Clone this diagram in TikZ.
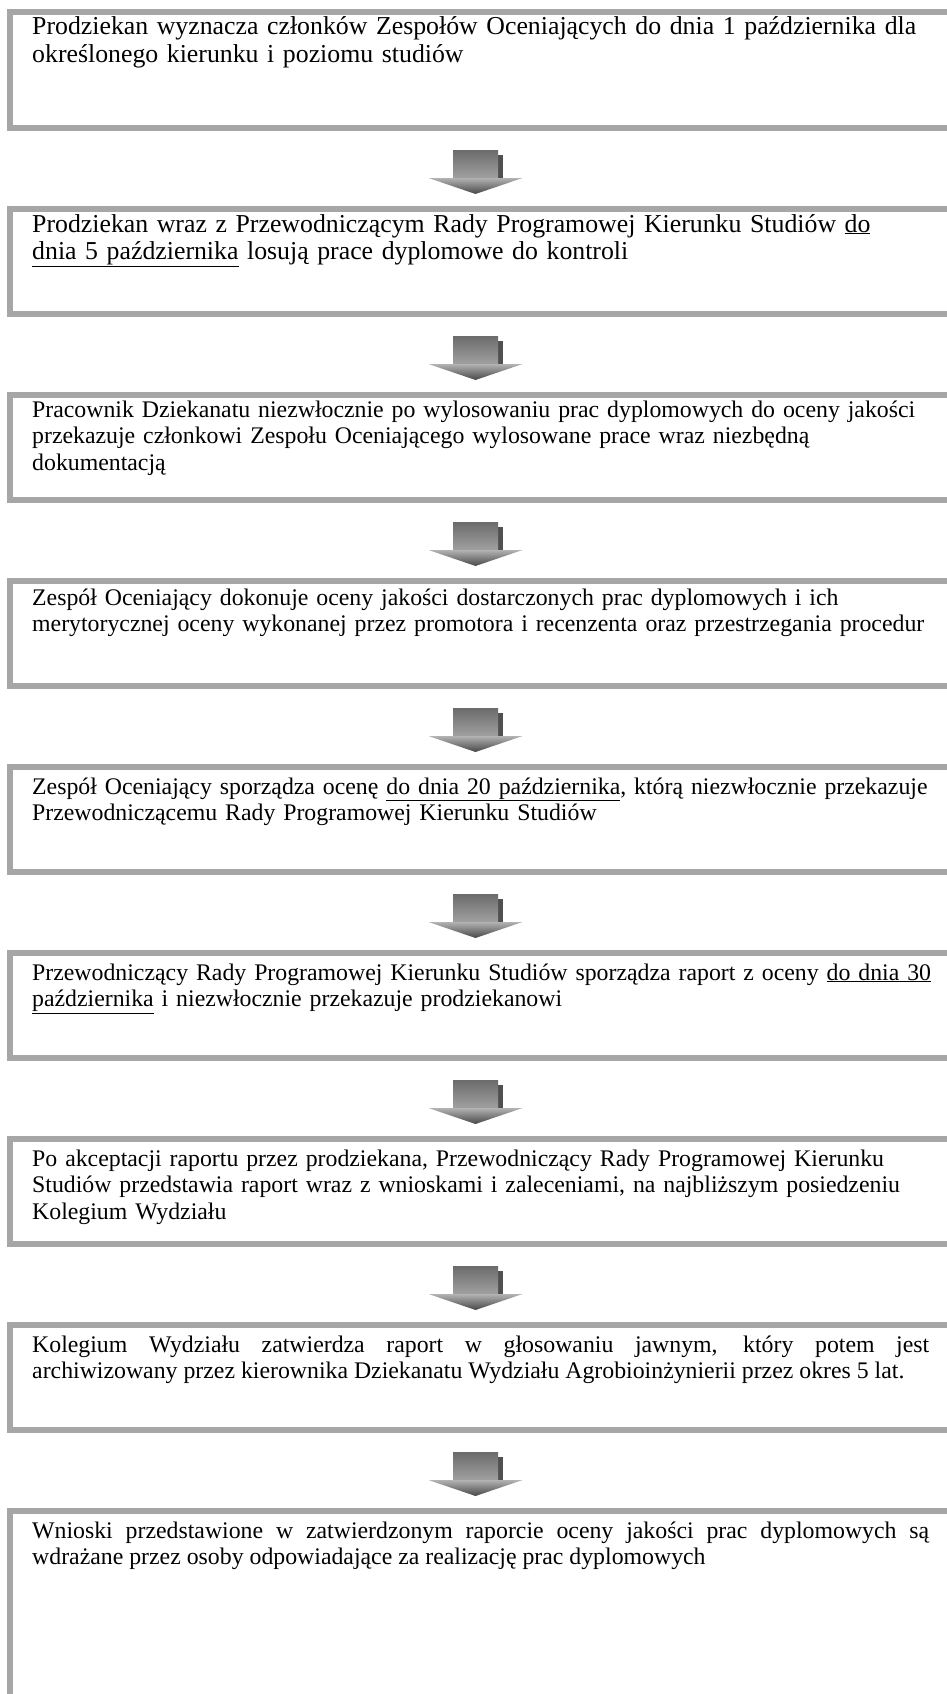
\documentclass[tikz,border=0pt]{standalone}
\usepackage{fontspec}
\setmainfont{Liberation Serif}
\usetikzlibrary{positioning, calc}
\definecolor{framegray}{RGB}{166, 166, 166}
\definecolor{arrowdark}{RGB}{80, 80, 80}
\tikzset{
  stagebox/.style={draw=framegray, line width=6pt, fill=white, minimum width=980pt, minimum height=105pt, inner sep=0pt},
  stagetext/.style={anchor=base west, inner sep=0pt, text width=940pt, align=left, font=\fontsize{23.8}{26.6}\selectfont},
  bigtext/.style={stagetext, font=\fontsize{25.8}{27.5}\selectfont},
  justtext/.style={stagetext, text width=897pt, align=justify}
}
% block arrow between two boxes
\newcommand{\flowarrow}[2]{%
  \coordinate (#1#2) at ($(#1.south west)!0.5!(#2.north west)+(468.5,0)$);
  \fill[arrowdark] ($(#1#2)+(22,-14)$) rectangle ($(#1#2)+(27,11)$);
  \shade[top color=black!58, bottom color=black!36] ($(#1#2)+(-22.5,-18.5)$) rectangle ($(#1#2)+(22.5,11)$);
  \shade[top color=black!30, bottom color=black!72] ($(#1#2)+(-47,9.5)$) -- ($(#1#2)+(47,9.5)$) -- ($(#1#2)+(0,25.5)$) -- cycle;
}

\begin{document}
\begin{tikzpicture}[x=1pt, y=-1pt, node distance=75pt]
  \useasboundingbox (0,0) rectangle (947,1694);
  \clip (0,0) rectangle (947,1694);
  \fill[white] (0,0) rectangle (947,1694);

  % boxes
  \node[stagebox, minimum height=116pt, anchor=north west] (b1) at (7,9) {};
  \node[stagebox, below=of b1] (b2) {};
  \node[stagebox, below=of b2] (b3) {};
  \node[stagebox, below=of b3] (b4) {};
  \node[stagebox, below=of b4] (b5) {};
  \node[stagebox, below=of b5] (b6) {};
  \node[stagebox, below=of b6] (b7) {};
  \node[stagebox, below=of b7] (b8) {};
  \node[stagebox, below=of b8, minimum height=240pt, anchor=north] (b9) {};

  % texts
  \node[bigtext] (t1) at ($(b1.north west)+(25,26)$) {Prodziekan wyznacza członków Zespołów Oceniających do dnia 1 października dla\\określonego kierunku i poziomu studiów};
  \node[bigtext] (t2) at ($(b2.north west)+(25,26)$) {Prodziekan wraz z Przewodniczącym Rady Programowej Kierunku Studiów \underline{do}\\\underline{dnia 5 października} losują prace dyplomowe do kontroli};
  \node[stagetext] (t3) at ($(b3.north west)+(25,25)$) {Pracownik Dziekanatu niezwłocznie po wylosowaniu prac dyplomowych do oceny jakości\\przekazuje członkowi Zespołu Oceniającego wylosowane prace wraz niezbędną\\dokumentacją};
  \node[stagetext] (t4) at ($(b4.north west)+(25,27)$) {Zespół Oceniający dokonuje oceny jakości dostarczonych prac dyplomowych i ich\\merytorycznej oceny wykonanej przez promotora i recenzenta oraz przestrzegania procedur};
  \node[stagetext] (t5) at ($(b5.north west)+(25,30)$) {Zespół Oceniający sporządza ocenę \underline{do dnia 20 października}, którą niezwłocznie przekazuje\\Przewodniczącemu Rady Programowej Kierunku Studiów};
  \node[stagetext] (t6) at ($(b6.north west)+(25,30)$) {Przewodniczący Rady Programowej Kierunku Studiów sporządza raport z oceny \underline{do dnia 30}\\\underline{października} i niezwłocznie przekazuje prodziekanowi};
  \node[stagetext] (t7) at ($(b7.north west)+(25,30)$) {Po akceptacji raportu przez prodziekana, Przewodniczący Rady Programowej Kierunku\\Studiów przedstawia raport wraz z wnioskami i zaleceniami, na najbliższym posiedzeniu\\Kolegium Wydziału};
  \node[justtext] (t8) at ($(b8.north west)+(25,30)$) {Kolegium Wydziału zatwierdza raport w głosowaniu jawnym, który potem jest\linebreak archiwizowany przez kierownika Dziekanatu Wydziału Agrobioinżynierii przez okres 5 lat.};
  \node[justtext] (t9) at ($(b9.north west)+(25,30)$) {Wnioski przedstawione w zatwierdzonym raporcie oceny jakości prac dyplomowych są\linebreak wdrażane przez osoby odpowiadające za realizację prac dyplomowych};

  % arrows
  \flowarrow{b1}{b2}
  \flowarrow{b2}{b3}
  \flowarrow{b3}{b4}
  \flowarrow{b4}{b5}
  \flowarrow{b5}{b6}
  \flowarrow{b6}{b7}
  \flowarrow{b7}{b8}
  \flowarrow{b8}{b9}
\end{tikzpicture}
\end{document}
